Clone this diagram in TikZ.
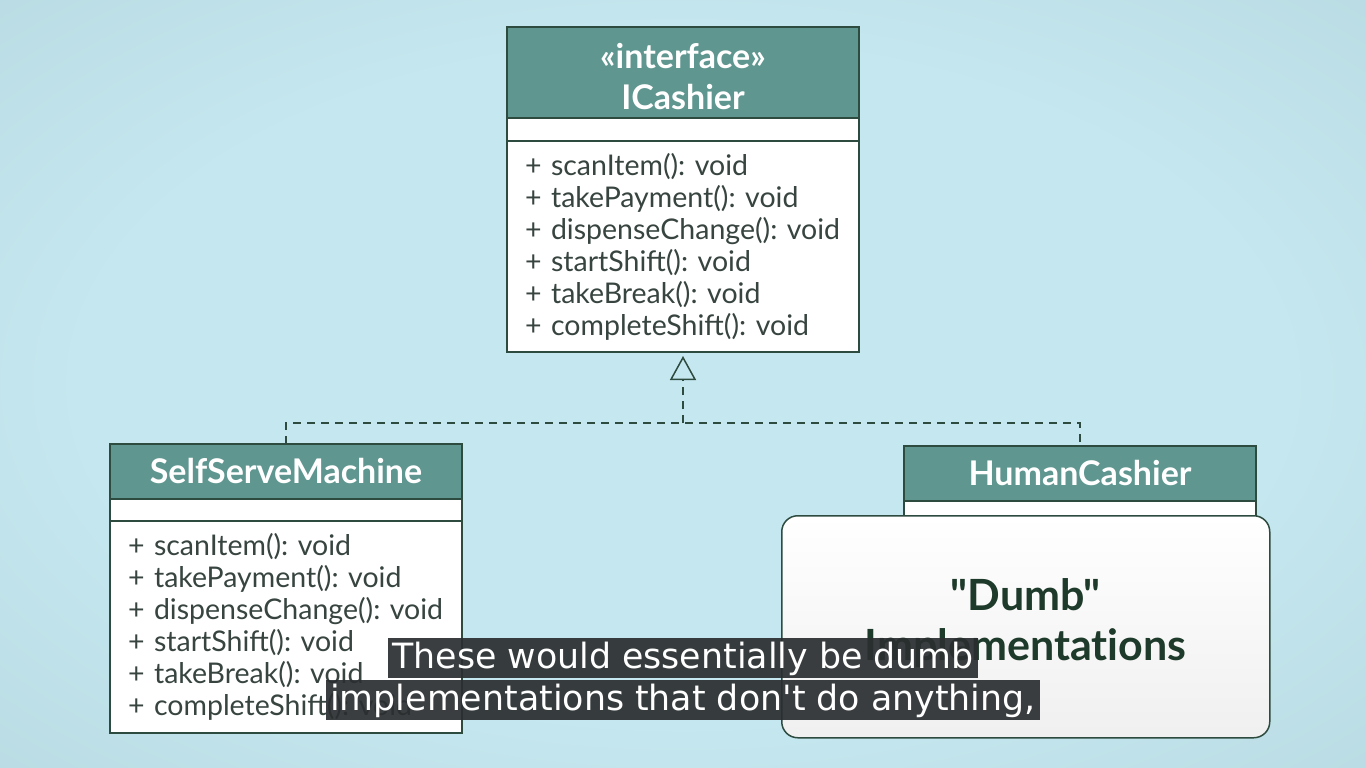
\documentclass[tikz,border=0pt]{standalone}
\usepackage{fontspec}
\setmainfont{Lato}
\newfontfamily\quotefont{Lato}[Ligatures={TeXOff,NoCommon}]
\newfontfamily\capfont{DejaVu Sans}
\usetikzlibrary{arrows.meta,positioning}
\frenchspacing

\definecolor{umlteal}{HTML}{5F9690}
\definecolor{umlline}{HTML}{2E4B40}
\definecolor{umltext}{HTML}{37443F}
\definecolor{dumbtext}{HTML}{1E3A2A}
\definecolor{bgin}{HTML}{C5E7EF}
\definecolor{bgout}{HTML}{9EBEC5}
\definecolor{capbg}{HTML}{2A2E30}

\pgfdeclareradialshading{backdrop}{\pgfpoint{0bp}{0bp}}{color(0bp)=(bgin); color(22bp)=(bgin); color(71bp)=(bgout)}

\begin{document}
\begin{tikzpicture}[x=1pt,y=-1pt]
        \tikzstyle{every path}=[line width=1.5pt]

        \tikzstyle{umlhead}=[draw=umlline,fill=umlteal,text=white,minimum width=352pt,
        align=center,inner sep=0pt,outer sep=0pt,font=\fontsize{34}{41}\selectfont\bfseries]
        \tikzstyle{umlgap}=[draw=umlline,fill=white,minimum width=352pt,minimum height=23pt,
        inner sep=0pt,outer sep=0pt]
        \tikzstyle{umlops}=[draw=umlline,fill=white,text=umltext,text width=316pt,align=left,
        inner xsep=18pt,inner ysep=0pt,outer sep=0pt,font=\fontsize{28.5}{32}\selectfont]
        \tikzstyle{realize}=[umlline,dashed,dash pattern=on 8pt off 6pt]
        \tikzstyle{caption}=[fill=capbg,fill opacity=0.92,text opacity=1,text=white,
        inner xsep=4pt,inner ysep=0pt,text height=30pt,text depth=10pt,
        font=\capfont\fontsize{34.8}{42}\selectfont]

        %% Backdrop
        \shade[shading=backdrop,line width=0pt] (0,0) rectangle (1366,768);
        \useasboundingbox (0,0) rectangle (1366,768);

        %% Interface box
        \node[umlhead,minimum height=91pt,anchor=north west] (icHead) at (507,27)
            {\rule{0pt}{33pt}«interface»\\ICashier};
        \node[umlgap,below=0pt of icHead] (icAttr) {};
        \node[umlops,minimum height=211pt,below=0pt of icAttr] (icOps)
            {+ scanItem(): void\\+ takePayment(): void\\+ dispenseChange(): void\\
             + startShift(): void\\+ takeBreak(): void\\+ completeShift(): void};

        %% Implementing classes
        \node[umlhead,minimum height=55pt,anchor=north west] (ssHead) at (110,444)
            {SelfServeMachine};
        \node[umlgap,minimum height=22pt,below=0pt of ssHead] (ssAttr) {};
        \node[umlops,minimum height=212pt,below=0pt of ssAttr] (ssOps)
            {+ scanItem(): void\\+ takePayment(): void\\+ dispenseChange(): void\\
             + startShift(): void\\+ takeBreak(): void\\+ completeShift(): void};

        \node[umlhead,minimum height=55pt,anchor=north west] (hcHead) at (904,446)
            {HumanCashier};
        \node[umlgap,below=0pt of hcHead] (hcAttr) {};

        % Realization lines
        \coordinate (split) at (683,423);
        \draw[realize,-{Triangle[open,length=24pt,width=26pt]},shorten >=4pt]
            (split) -- (icOps.south);
        \draw[realize] (ssHead.north) |- (split) -| (hcHead.north);

        %% Callout over the human cashier
        \node[draw=umlline,rounded corners=16pt,top color=white,bottom color=black!6,
            minimum width=488pt,minimum height=222pt,anchor=north west,align=center,
            text=dumbtext,font=\quotefont\fontsize{43}{50}\selectfont\bfseries] (dumb) at (781,515)
            {"Dumb"\\Implementations\rule[-14pt]{0pt}{1pt}};

        %% Subtitles
        \node[caption] (cap1) at (683,658) {These would essentially be dumb};
        \node[caption] (cap2) at (683,700) {implementations that don't do anything,};
\end{tikzpicture}
\end{document}
